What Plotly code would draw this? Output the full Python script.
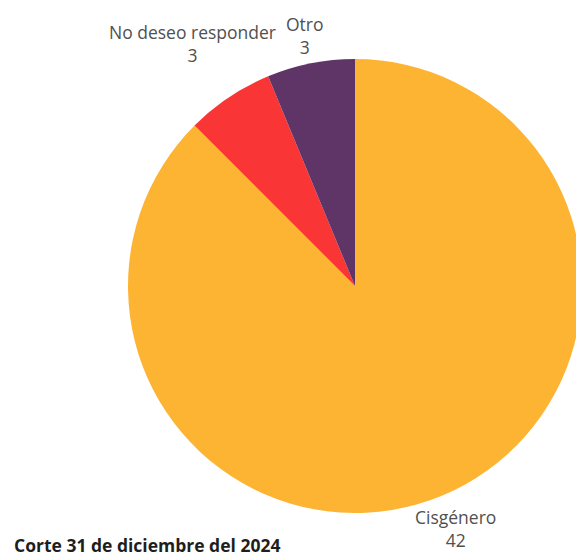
import math
import plotly.graph_objects as go

labels = ["Cisgénero", "No deseo responder", "Otro"]
values = [42, 3, 3]
colors = ["#FDB433", "#F93535", "#5E3566"]
label_dist = [262, 292, 255]  # px distance of each label from pie centre (style)

W, H = 590, 556
ML, MR, MT, MB = 128, 8, 59, 43
PW, PH = W - ML - MR, H - MT - MB
CX, CY = ML + PW / 2, MT + PH / 2

fig = go.Figure(go.Pie(
    labels=labels,
    values=values,
    sort=False,
    direction="clockwise",
    rotation=0,
    marker=dict(colors=colors, line=dict(width=0)),
    textinfo="none",
    hoverinfo="label+value",
    showlegend=False,
    domain=dict(x=[0, 1], y=[0, 1]),
))

total = sum(values)
cum = 0
for lab, val, d in zip(labels, values, label_dist):
    mid = (cum + val / 2) / total * 2 * math.pi
    cum += val
    px = CX + d * math.sin(mid)
    py = CY - d * math.cos(mid)
    fig.add_annotation(
        text=f"{lab}<br>{val}",
        xref="paper", yref="paper",
        x=(px - ML) / PW, y=1 - (py - MT) / PH,
        xanchor="center", yanchor="middle",
        showarrow=False,
        font=dict(family="Open Sans", size=17.5, color="#505050"),
    )

fig.add_annotation(
    text="<b>Corte 31 de diciembre del 2024</b>",
    xref="paper", yref="paper", x=(12 - ML) / PW, y=1 - (545 - MT) / PH,
    xanchor="left", yanchor="middle",
    showarrow=False,
    font=dict(family="Open Sans", size=17.5, color="#1E1E1E"),
)

fig.update_layout(
    width=W, height=H,
    margin=dict(l=ML, r=MR, t=MT, b=MB),
    paper_bgcolor="white",
    plot_bgcolor="white",
)

fig.write_html("out.html", post_script="document.body.style.overflow='hidden';")
